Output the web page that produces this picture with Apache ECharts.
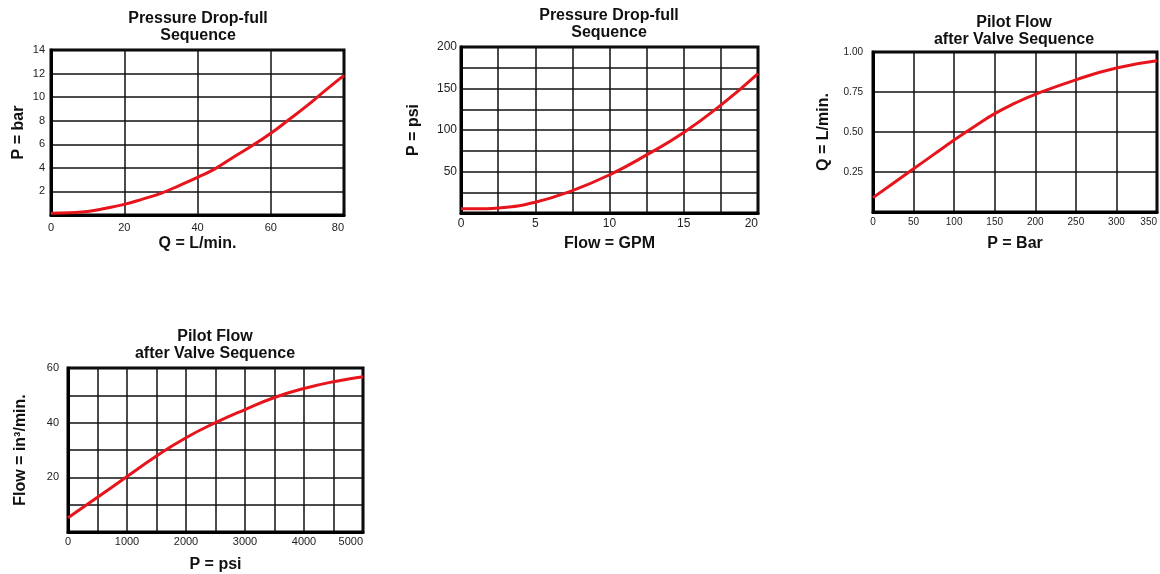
<!DOCTYPE html>
<html>
<head>
<meta charset="utf-8">
<script src="https://cdn.jsdelivr.net/npm/echarts@6/dist/echarts.min.js"></script>
<style>
html,body{margin:0;padding:0;background:#fff;}
#c{width:1160px;height:574px;}
</style>
</head>
<body>
<div id="c"></div>
<script>
// ---- Data ----
// Chart 1: Pressure Drop-full Sequence (bar vs L/min)
const c1Flow = [0, 5, 10, 15, 20, 25, 30, 35, 40, 45, 50, 55, 60, 65, 70, 75, 80];
const c1Pressure = [0.15, 0.2, 0.3, 0.57, 0.9, 1.35, 1.84, 2.5, 3.2, 3.96, 4.95, 5.9, 6.93, 8.1, 9.3, 10.6, 11.85];
// Chart 2: Pressure Drop-full Sequence (psi vs GPM)
const c2Flow = [0, 1.5, 2.5, 5, 7.5, 10, 12.5, 15, 17.5, 20];
const c2Pressure = [5, 5.2, 6, 13, 27, 46, 70, 97, 130, 168];
// Chart 3: Pilot Flow after Valve Sequence (L/min vs Bar)
const c3Pressure = [0, 25, 50, 75, 100, 125, 150, 175, 200, 250, 300, 350];
const c3Flow = [0.09, 0.18, 0.27, 0.36, 0.45, 0.535, 0.615, 0.68, 0.735, 0.826, 0.9, 0.945];
// Chart 4: Pilot Flow after Valve Sequence (in^3/min vs psi)
const c4Pressure = [0, 500, 1000, 1500, 2000, 2500, 3000, 3500, 4000, 4500, 5000];
const c4Flow = [5.2, 12.7, 20.3, 27.8, 34.5, 40, 44.8, 49.2, 52.5, 55, 56.8];

const titles = ['Pressure Drop-full\nSequence', 'Pressure Drop-full\nSequence', 'Pilot Flow\nafter Valve Sequence', 'Pilot Flow\nafter Valve Sequence'];
const xNames = ['Q = L/min.', 'Flow = GPM', 'P = Bar', 'P = psi'];
const yNames = ['P = bar', 'P = psi', 'Q = L/min.', 'Flow = in³/min.'];

// ---- Layout ----
const FONT = '"Liberation Sans", Arial, Helvetica, sans-serif';
const RED = '#e8141c';
const grids = [
  {left: 51, top: 50, width: 293, height: 165},
  {left: 461, top: 47, width: 297, height: 166},
  {left: 873, top: 52, width: 285, height: 160},
  {left: 68, top: 368, width: 295, height: 165}
];
const titlePos = [
  {x: 198, y: 10}, {x: 609, y: 7}, {x: 1014, y: 14}, {x: 215, y: 328}
];
const xCfg = [
  {max: 80, interval: 20, show: v => true, size: 11, margin: 7, gap: 21},
  {max: 20, interval: 2.5, show: v => v % 5 === 0, size: 12, margin: 5, gap: 23},
  {max: 350, interval: 50, show: v => true, size: 10, margin: 5, gap: 24},
  {max: 5000, interval: 500, show: v => v % 1000 === 0, size: 11, margin: 4, gap: 25}
];
const yCfg = [
  {max: 14, interval: 2, fmt: v => v === 0 ? '' : String(v), size: 11, margin: 6, gap: 24},
  {max: 200, interval: 25, fmt: v => (v !== 0 && v % 50 === 0) ? String(v) : '', size: 12, margin: 4, gap: 39},
  {max: 1, interval: 0.25, fmt: v => v === 0 ? '' : v.toFixed(2), size: 10, margin: 10, gap: 41},
  {max: 60, interval: 10, fmt: v => (v !== 0 && v % 20 === 0) ? String(v) : '', size: 11, margin: 9, gap: 39}
];
const seriesData = [
  c1Flow.map((x, i) => [x, c1Pressure[i]]),
  c2Flow.map((x, i) => [x, c2Pressure[i]]),
  c3Pressure.map((x, i) => [x, c3Flow[i]]),
  c4Pressure.map((x, i) => [x, c4Flow[i]])
];

const option = {
  backgroundColor: '#fff',
  animation: false,
  title: titles.map((t, i) => ({
    text: t,
    left: titlePos[i].x,
    top: titlePos[i].y,
    textAlign: 'center',
    padding: 0,
    textStyle: {fontFamily: FONT, fontSize: 16, fontWeight: 'bold', color: '#111', lineHeight: 17}
  })),
  grid: grids.map(g => Object.assign({show: true, borderColor: '#000', borderWidth: 3, backgroundColor: '#fff', containLabel: false}, g)),
  xAxis: xCfg.map((c, i) => ({
    type: 'value', gridIndex: i, min: 0, max: c.max, interval: c.interval,
    name: xNames[i], nameLocation: 'middle', nameGap: c.gap,
    nameTextStyle: {fontFamily: FONT, fontSize: 16, fontWeight: 'bold', color: '#111'},
    axisLine: {show: true, lineStyle: {color: '#000', width: 3}},
    axisTick: {show: false},
    splitLine: {show: true, lineStyle: {color: '#111', width: 1.5}},
    axisLabel: {
      fontFamily: FONT, fontSize: c.size, color: '#222', margin: c.margin,
      alignMaxLabel: 'right', showMinLabel: true, showMaxLabel: true,
      formatter: v => c.show(v) ? String(v) : ''
    }
  })),
  yAxis: yCfg.map((c, i) => ({
    type: 'value', gridIndex: i, min: 0, max: c.max, interval: c.interval,
    name: yNames[i], nameLocation: 'middle', nameGap: c.gap, nameRotate: 90,
    nameTextStyle: {fontFamily: FONT, fontSize: 16, fontWeight: 'bold', color: '#111'},
    axisLine: {show: true, lineStyle: {color: '#000', width: 3}},
    axisTick: {show: false},
    splitLine: {show: true, lineStyle: {color: '#111', width: 1.5}},
    axisLabel: {
      fontFamily: FONT, fontSize: c.size, color: '#222', margin: c.margin,
      showMinLabel: true, showMaxLabel: true,
      formatter: c.fmt
    }
  })),
  series: seriesData.map((d, i) => ({
    type: 'line', xAxisIndex: i, yAxisIndex: i, data: d,
    smooth: 0.5, showSymbol: false, symbol: 'none',
    lineStyle: {color: RED, width: 3},
    z: 5
  }))
};

const chart = echarts.init(document.getElementById('c'), null, {renderer: 'canvas'});
chart.setOption(option);
</script>
</body>
</html>
